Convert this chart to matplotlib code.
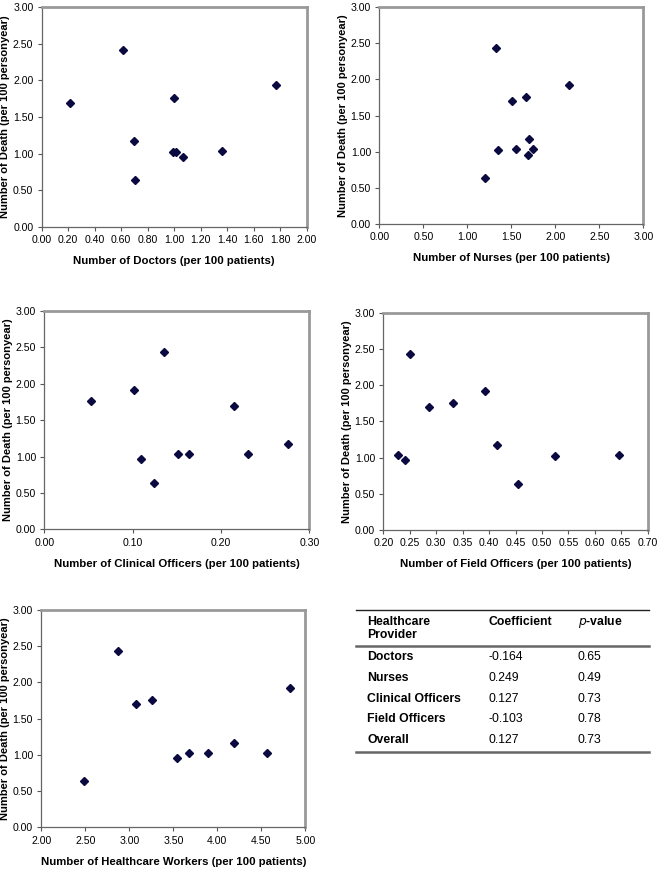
import matplotlib
matplotlib.use("Agg")
from matplotlib import pyplot as plt
from matplotlib.lines import Line2D

plt.rcParams['font.family'] = ['Liberation Sans', 'DejaVu Sans']

# number of deaths per 100 personyear, per panel
docX = [0.21, 0.615, 0.996, 1.767, 0.693, 0.705, 0.991, 1.016, 1.066, 1.363]
docY = [1.69, 2.42, 1.76, 1.93, 1.17, 0.64, 1.02, 1.02, 0.96, 1.03]

nurX = [1.20, 1.33, 1.51, 1.67, 2.16, 1.35, 1.55, 1.70, 1.69, 1.75]
nurY = [0.64, 2.43, 1.70, 1.76, 1.92, 1.02, 1.03, 1.17, 0.96, 1.03]

cliX = [0.053, 0.102, 0.136, 0.110, 0.124, 0.151, 0.164, 0.215, 0.231, 0.276]
cliY = [1.76, 1.92, 2.43, 0.96, 0.64, 1.03, 1.03, 1.70, 1.03, 1.17]

fldX = [0.227, 0.241, 0.251, 0.286, 0.332, 0.393, 0.415, 0.455, 0.525, 0.646]
fldY = [1.03, 0.97, 2.43, 1.70, 1.76, 1.92, 1.17, 0.64, 1.02, 1.03]

hcwX = [2.48, 2.87, 3.08, 3.26, 3.54, 3.68, 3.89, 4.19, 4.56, 4.83]
hcwY = [0.64, 2.43, 1.70, 1.76, 0.96, 1.02, 1.03, 1.17, 1.02, 1.92]

tblProvider = ["Doctors", "Nurses", "Clinical Officers", "Field Officers", "Overall"]
tblCoef = ["-0.164", "0.249", "0.127", "-0.103", "0.127"]
tblP = ["0.65", "0.49", "0.73", "0.78", "0.73"]

W, H = 661, 873
fig = plt.figure(figsize=(W / 100, H / 100), dpi=100)


def panel(left, top, right, bottom, x, y, xlim, xticks, xlabel):
    ax = fig.add_axes([left / W, 1 - bottom / H, (right - left) / W, (bottom - top) / H])
    ax.plot(x, y, linestyle="none", marker="D", markersize=4.3,
            color="#0a0a40", markeredgecolor="#0a0a40")
    ax.set_xlim(xlim)
    ax.set_ylim(0, 3)
    ax.set_xticks(xticks)
    ax.set_yticks([0, 0.5, 1, 1.5, 2, 2.5, 3])
    ax.xaxis.set_major_formatter(matplotlib.ticker.FormatStrFormatter("%.2f"))
    ax.yaxis.set_major_formatter(matplotlib.ticker.FormatStrFormatter("%.2f"))
    ax.tick_params(labelsize=7.6, length=3, width=0.8, color="#555555", pad=3)
    for s in ["left", "bottom"]:
        ax.spines[s].set_color("#666666")
        ax.spines[s].set_linewidth(0.9)
    for s in ["top", "right"]:
        ax.spines[s].set_color("#999999")
        ax.spines[s].set_linewidth(2.0)
    ax.set_xlabel(xlabel, fontsize=8.2, fontweight="bold", labelpad=8)
    ax.set_ylabel("Number of Death (per 100 personyear)", fontsize=8.0, fontweight="bold")
    ax.yaxis.set_label_coords(-0.12, 0.5)
    return ax


panel(41.7, 7, 306.7, 227, docX, docY, (0, 2), [0.2 * i for i in range(11)],
      "Number of Doctors (per 100 patients)")
panel(379.3, 7, 643.3, 224, nurX, nurY, (0, 3), [0.5 * i for i in range(7)],
      "Number of Nurses (per 100 patients)")
panel(44.3, 311, 309.3, 529.3, cliX, cliY, (0, 0.3), [0, 0.1, 0.2, 0.3],
      "Number of Clinical Officers (per 100 patients)")
panel(383.3, 312.7, 647.7, 530, fldX, fldY, (0.2, 0.7), [0.2 + 0.05 * i for i in range(11)],
      "Number of Field Officers (per 100 patients)")
panel(41.3, 610, 305.3, 827.3, hcwX, hcwY, (2, 5), [2 + 0.5 * i for i in range(7)],
      "Number of Healthcare Workers (per 100 patients)")

# table on the lower right
def fy(py):
    return 1 - py / H

def fx(px):
    return px / W

for py, lw, c in [(610, 1.0, "#222222"), (645.7, 1.8, "#666666"), (751.7, 1.8, "#666666")]:
    fig.add_artist(Line2D([fx(356), fx(649.3)], [fy(py), fy(py)], color=c, linewidth=lw))

fs = 8.8
fig.text(fx(367.3), fy(621.7), "Healthcare", fontsize=fs, fontweight="bold", va="center")
fig.text(fx(367.3), fy(635), "Provider", fontsize=fs, fontweight="bold", va="center")
fig.text(fx(488.3), fy(621.7), "Coefficient", fontsize=fs, fontweight="bold", va="center")
fig.text(fx(577.7), fy(621.7), r"$\bf{\it{p}}$" + "-value", fontsize=fs, fontweight="bold", va="center")

rowY = [657.3, 678, 698.7, 719, 740]
for i in range(len(tblProvider)):
    fig.text(fx(367.3), fy(rowY[i]), tblProvider[i], fontsize=fs, fontweight="bold", va="center")
    fig.text(fx(488.3), fy(rowY[i]), tblCoef[i], fontsize=fs, va="center")
    fig.text(fx(577.7), fy(rowY[i]), tblP[i], fontsize=fs, va="center")

fig.savefig("out.png", dpi=100)
